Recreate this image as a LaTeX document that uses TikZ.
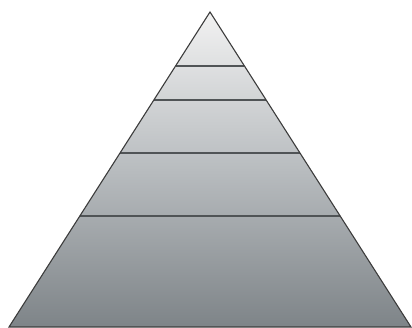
\documentclass[tikz,border=0pt]{standalone}
\usetikzlibrary{calc}
\definecolor{topgray}{HTML}{F2F2F2}
\definecolor{midgray}{HTML}{B8BCBF}
\definecolor{botgray}{HTML}{7E8488}
\definecolor{edgegray}{HTML}{3C3C3C}
\definecolor{linegray}{HTML}{505456}
\tikzset{
  pyredge/.style={draw=edgegray, line width=1.1pt, line join=miter},
  tierline/.style={draw=linegray, line width=1.6pt},
}
\begin{document}
\begin{tikzpicture}[x=1pt,y=-1pt]
\useasboundingbox (0,0) rectangle (412,328);
\coordinate (A) at (210,12);
\coordinate (L) at (9,327);
\coordinate (R) at (411,327);
\shade[top color=topgray, bottom color=botgray, middle color=midgray] (A) -- (L) -- (R) -- cycle;
\foreach \yy in {66,100,153,216}{
  \pgfmathsetmacro{\t}{(\yy-12)/315}
  \draw[tierline] ($(A)!\t!(L)$) -- ($(A)!\t!(R)$);
}
\draw[pyredge] (A) -- (L) -- (R) -- cycle;
\end{tikzpicture}
\end{document}
